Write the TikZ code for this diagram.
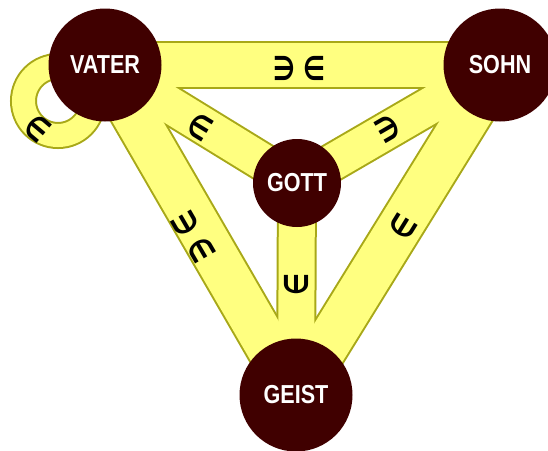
\documentclass[tikz,border=0pt]{standalone}
\usepackage{fontspec}
\usetikzlibrary{calc}
\newfontfamily\nodefont[FakeStretch=0.83]{Liberation Sans}
\newfontfamily\symfont[FakeStretch=0.74]{DejaVu Sans}
\definecolor{bandfill}{HTML}{FFFF80}
\definecolor{bandedge}{HTML}{A8A818}
\definecolor{nodefill}{HTML}{400000}
\pgfdeclarelayer{edgelayer}
\pgfdeclarelayer{filllayer}
\pgfsetlayers{edgelayer,filllayer,main}
\tikzset{
  person/.style={circle, fill=nodefill, draw=none, inner sep=0pt, text=white,
    font=\nodefont\bfseries\fontsize{26}{26}\selectfont},
  bigperson/.style={person, minimum size=113pt},
  smallperson/.style={person, minimum size=88pt},
  bandedgeline/.style={draw=bandedge, line width=#1+4pt},
  bandfillline/.style={draw=bandfill, line width=#1},
  lbl/.style={inner sep=0pt, font=\symfont\bfseries\fontsize{33}{33}\selectfont}
}
\begin{document}
\begin{tikzpicture}[x=1pt,y=-1pt]
\useasboundingbox (0,0) rectangle (548,450);
\node[bigperson] (V) at (105,65) {VATER};
\node[bigperson] (S) at (500,65) {SOHN};
\node[smallperson] (G) at (297,183) {GOTT};
\node[bigperson] (H) at (296,395) {GEIST};
\coordinate (L) at ([shift={(-47,36)}]V.center);
\begin{pgfonlayer}{edgelayer}
  \draw[bandedgeline=44pt] (V.center) -- (S.center);
  \draw[bandedgeline=44pt] (V.center) -- (H.center);
  \draw[bandedgeline=44pt] (S.center) -- (H.center);
  \draw[bandedgeline=36pt] (V.center) -- (G.center);
  \draw[bandedgeline=36pt] (G.center) -- (S.center);
  \draw[bandedgeline=36pt] (G.center) -- (H.center);
  \draw[bandedgeline=23pt] (L) circle[radius=34.5];
\end{pgfonlayer}
\begin{pgfonlayer}{filllayer}
  \draw[bandfillline=44pt] (V.center) -- (S.center);
  \draw[bandfillline=44pt] (V.center) -- (H.center);
  \draw[bandfillline=44pt] (S.center) -- (H.center);
  \draw[bandfillline=36pt] (V.center) -- (G.center);
  \draw[bandfillline=36pt] (G.center) -- (S.center);
  \draw[bandfillline=36pt] (G.center) -- (H.center);
  \draw[bandfillline=23pt] (L) circle[radius=34.5];
\end{pgfonlayer}
\node[lbl] (l1) at ($(V.center)!0.5!(S.center)+(-3,3)$) {∋ ∈};
\node[lbl, rotate=-31.4] (l2) at ($(V.center)!0.5!(G.center)+(-1,3)$) {∈};
\node[lbl, rotate=30.2] (l3) at ($(G.center)!0.44!(S.center)+(2,-2)$) {∋};
\node[lbl, rotate=-59.8] (l4) at ($(V.center)!0.52!(H.center)+(-11,0)$) {∋ ∈};
\node[lbl, rotate=90] (l5) at ($(G.center)!0.47!(H.center)+(0,2)$) {∈};
\node[lbl, rotate=58.3] (l6) at ($(S.center)!0.49!(H.center)+(3,0)$) {∈};
\node[lbl, rotate=-40] (l7) at ([shift={(-20,27)}]L) {∈};
\end{tikzpicture}
\end{document}
